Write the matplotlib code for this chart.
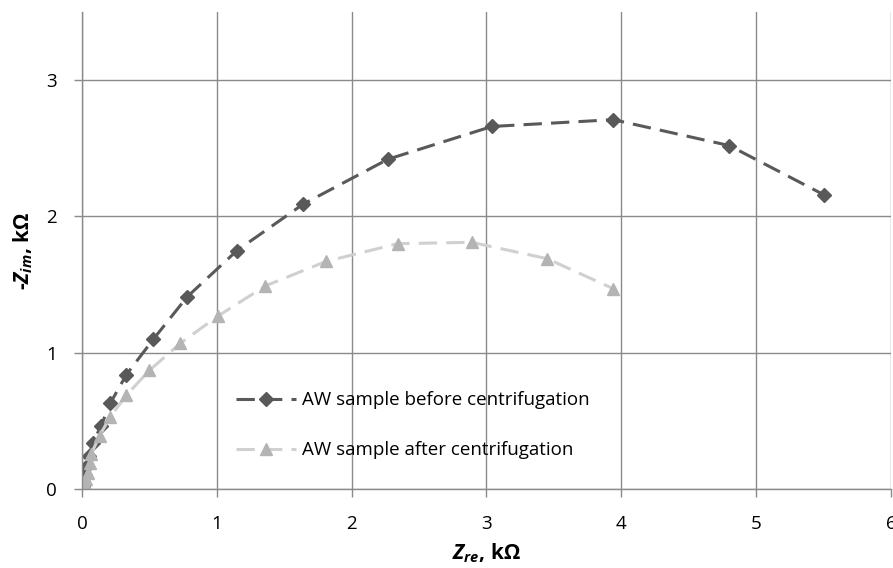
import matplotlib
matplotlib.use("Agg")
import matplotlib.pyplot as plt

plt.rcParams['font.family'] = ['Open Sans', 'DejaVu Sans']
plt.rcParams['mathtext.fontset'] = 'custom'
plt.rcParams['mathtext.it'] = 'Open Sans:italic:bold'
plt.rcParams['mathtext.rm'] = 'Open Sans:bold'

before_x = [0.005, 0.01, 0.02, 0.03, 0.05, 0.08, 0.14, 0.21, 0.33, 0.53, 0.78, 1.15, 1.64, 2.27, 3.04, 3.94, 4.80, 5.50]
before_y = [0.02, 0.05, 0.10, 0.16, 0.24, 0.34, 0.46, 0.63, 0.84, 1.10, 1.41, 1.75, 2.09, 2.42, 2.66, 2.71, 2.52, 2.16]
after_x = [0.01, 0.02, 0.03, 0.045, 0.06, 0.07, 0.13, 0.21, 0.33, 0.50, 0.73, 1.01, 1.36, 1.81, 2.34, 2.89, 3.45, 3.94]
after_y = [0.02, 0.04, 0.07, 0.12, 0.19, 0.26, 0.39, 0.53, 0.69, 0.87, 1.07, 1.27, 1.49, 1.67, 1.80, 1.81, 1.69, 1.47]
labels = ["AW sample before centrifugation", "AW sample after centrifugation"]

fig = plt.figure(figsize=(8.93, 5.68), dpi=100)
ax = fig.add_axes([82/893, 79/568, 809/893, 477/568])

ax.plot(before_x, before_y, color='#595959', linestyle=(0, (6, 3)), linewidth=2.2,
        marker='D', markersize=7.5, label=labels[0])
ax.plot(after_x, after_y, color='#d0d0d0', linestyle=(0, (6, 3)), linewidth=2.2,
        marker='^', markersize=9, markerfacecolor='#b4b4b4', markeredgecolor='#b4b4b4',
        label=labels[1])

ax.set_xlim(0, 6)
ax.set_ylim(0, 3.5)
ax.set_xticks([0, 1, 2, 3, 4, 5, 6])
ax.set_yticks([0, 1, 2, 3])
ax.grid(True, color='#8a8a8a', linewidth=1.0)
ax.set_axisbelow(True)
for s in ['top', 'right']:
    ax.spines[s].set_visible(False)
for s in ['left', 'bottom']:
    ax.spines[s].set_color('#8a8a8a')
    ax.spines[s].set_linewidth(1.0)
ax.tick_params(axis='both', colors='#8a8a8a', labelcolor='black', labelsize=13.5, length=6, width=1.0)
ax.tick_params(axis='x', pad=13)
ax.tick_params(axis='y', pad=12)

ax.set_xlabel(r'$Z_{re}$, kΩ', fontsize=15, fontweight='bold', labelpad=6)
ax.set_ylabel(r'-$Z_{im}$, kΩ', fontsize=15, fontweight='bold', labelpad=8)

leg = ax.legend(loc='upper left', bbox_to_anchor=(0.17, 0.24), frameon=False, fontsize=13.5,
                labelspacing=1.7, handlelength=3.2, handletextpad=0.3)

fig.savefig('out.png', dpi=100)
